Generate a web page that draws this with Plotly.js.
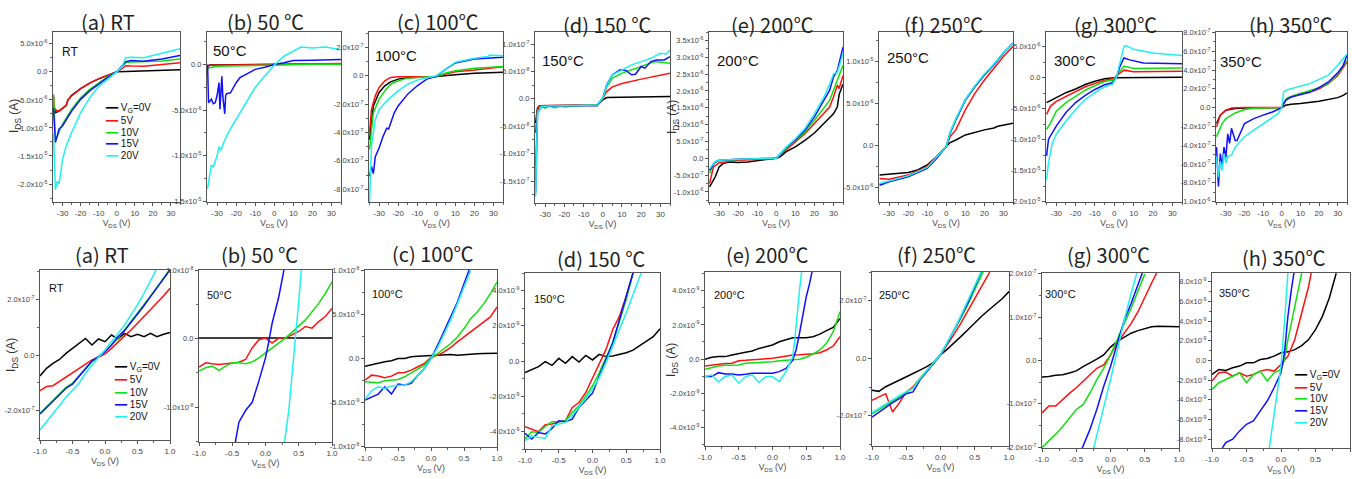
<!DOCTYPE html>
<html><head><meta charset="utf-8">
<script src="https://cdn.plot.ly/plotly-3.0.1.min.js"></script>
<style>html,body{margin:0;padding:0;background:#fff}#chart{width:1352px;height:479px}</style>
</head><body><div id="chart"></div>
<script>
// ---------- series names / colours ----------
const seriesNames = ['V<sub>G</sub>=0V', '5V', '10V', '15V', '20V'];
const seriesColors = ['#000000', '#ff1010', '#10e010', '#1010ff', '#20f0f0'];

// ---------- common x grids (V) ----------
const X21 = [-1,-0.9,-0.8,-0.7,-0.6,-0.5,-0.4,-0.3,-0.2,-0.1,0,0.1,0.2,0.3,0.4,0.5,0.6,0.7,0.8,0.9,1];
const X17 = [-1,-0.9,-0.8,-0.7,-0.6,-0.5,-0.4,-0.3,-0.2,-0.1,0,0.1,0.2,0.3,0.4,0.5,0.6];

// ================= TOP ROW (VDS -35..35 V) =================
// (a) RT, unit 1e-6 A
const ta0x=[-35,-34,-32,-30,-28,-27,-25,-20,-15,-10,-5,0,5,10,20,35];
const ta0y=[-6.0,-7.3,-7.0,-6.5,-6.0,-5.0,-4.2,-3.0,-2.0,-1.25,-0.6,0,0.05,0.1,0.2,0.35];
const ta5x=[-35,-34.5,-33,-31,-29,-28,-27,-25,-20,-15,-10,-5,0,3,5,8,15,25,35];
const ta5y=[-4.2,-6.5,-7.0,-6.8,-6.2,-6.0,-5.0,-4.3,-3.0,-2.0,-1.2,-0.6,0,0.6,1.1,1.05,1.0,1.3,1.6];
const ta10x=[-35,-34.5,-34,-33,-30,-25,-20,-15,-10,-5,0,3,5,8,15,25,35];
const ta10y=[-4.0,-9.0,-12.2,-11.5,-9.3,-6.7,-4.6,-3.1,-1.9,-0.85,0,0.9,1.7,1.75,1.75,1.95,2.3];
const ta15x=[-35,-34.5,-34,-33,-32,-30,-25,-20,-15,-10,-5,0,3,5,8,15,25,35];
const ta15y=[-6.5,-11,-12.6,-11.5,-10.2,-9.6,-7.0,-4.9,-3.4,-2.2,-1.0,0,1.0,1.8,2.0,1.9,2.3,2.9];
const ta20x=[-35,-34.5,-34,-33,-32,-31,-30,-28,-25,-20,-15,-10,-5,0,3,5,8,15,20,25,35];
const ta20y=[-11,-19,-21,-19.5,-20,-18,-15.6,-13.2,-10.8,-7.3,-4.6,-2.6,-1.3,0,1.0,2.5,2.6,2.5,2.9,3.3,4.1];
const taTicks=[5,0,-5,-10,-15,-20];

// (b) 50 C, unit 1e-6 A
const tb0x=[-35,-34,-20,0,20,35];
const tb0y=[-0.2,-0.05,-0.02,0,0.02,0.05];
const tb5x=[-35,-34,-20,0,20,35];
const tb5y=[-0.3,-0.1,-0.05,0,0.05,0.1];
const tb10x=[-35,-34,-30,-20,-10,0,20,35];
const tb10y=[-0.5,-0.35,-0.2,-0.15,-0.08,0,0.02,0.03];
const tb15x=[-35,-34.5,-33,-32,-31,-30,-29,-28.5,-28,-27.5,-27,-26,-25.5,-25,-23,-20,-18,-15,-10,-5,0,5,10,20,35];
const tb15y=[0,-4.2,-3.8,-4.3,-4.2,-3.4,-2.0,-4.9,-3.0,-1.3,-3.5,-5.4,-3.4,-3.2,-3.1,-2.0,-1.45,-1.1,-0.54,-0.3,0,0.18,0.43,0.45,0.54];
const tb20x=[-35,-34,-33,-32,-31,-30,-29,-28,-27,-25,-22,-20,-15,-10,-5,0,5,10,14,20,27,35];
const tb20y=[-13.6,-12.2,-11.0,-11.2,-10.5,-10.0,-9.0,-9.4,-8.8,-7.8,-6.7,-6.0,-4.2,-2.5,-1.27,-0.07,0.9,1.45,1.9,1.8,1.9,1.6];
const tbTicks=[0,-5,-10,-15];

// (c) 100 C, unit 1e-7 A
const tc0x=[-35,-33,-30,-27,-24,-20,-15,-10,-5,0,10,20,35];
const tc0y=[-4.5,-2.13,-1.18,-0.71,-0.43,-0.24,-0.14,-0.12,-0.07,-0.05,0.07,0.17,0.24];
const tc5x=[-35,-34,-32,-30,-27,-24,-20,-10,0,5,10,20,35];
const tc5y=[-4.0,-2.37,-1.42,-0.83,-0.36,-0.12,-0.07,-0.07,-0.05,0.12,0.28,0.4,0.64];
const tc10x=[-35,-33,-30,-27,-24,-20,-15,-10,-5,0,5,10,20,35];
const tc10y=[-5.2,-2.6,-1.65,-1.07,-0.6,-0.36,-0.17,-0.12,-0.1,-0.05,0.19,0.35,0.52,0.64];
const tc15x=[-35,-34,-33,-32,-30,-28,-26,-25,-22,-20,-15,-10,-5,0,5,10,20,35];
const tc15y=[-7.1,-6.4,-6.9,-5.7,-5.1,-4.3,-3.7,-3.75,-2.6,-2.13,-1.3,-0.71,-0.24,-0.05,0.47,0.9,1.18,1.3];
const tc20x=[-35,-34,-32,-30,-25,-20,-15,-10,-5,0,5,10,20,27,28,35];
const tc20y=[-8.9,-4.97,-3.1,-2.37,-1.65,-1.07,-0.6,-0.31,-0.14,0,0.47,0.95,1.23,1.35,1.45,1.4];
const tcTicks=[2,0,-2,-4,-6,-8];

// (d) 150 C, unit 1e-8 A
const td0x=[-35,-34,-33,-20,-3,0,2,10,35];
const td0y=[-4.4,-1.7,-1.27,-1.2,-1.1,-0.2,0.24,0.3,0.42];
const td5x=[-35,-34,-33,-20,-3,0,2,5,10,20,30,35];
const td5y=[-6.2,-2.0,-1.27,-1.2,-1.1,0.1,1.33,2.2,2.8,3.6,4.4,4.7];
const td10x=[-35,-34,-32,-30,-28,-25,-22,-20,-15,-10,-3,0,2,5,10,20,27,35];
const td10y=[-12.3,-2.3,-1.4,-1.7,-1.3,-1.6,-1.3,-1.5,-1.3,-1.25,-1.1,0.1,2.2,3.8,4.7,5.9,6.8,6.5];
const td15x=[-35,-34,-32,-20,-3,0,2,5,9,12,15,17,20,22,25,28,32,35];
const td15y=[-17.2,-2.6,-1.4,-1.25,-1.27,0.1,2.5,4.4,5.3,5.2,4.4,4.5,5.9,5.6,6.8,7.1,7.1,7.7];
const td20x=[-35,-34,-32,-28,-20,-10,-3,0,2,5,10,15,20,25,30,33,35];
const td20y=[-17.8,-2.6,-1.4,-1.3,-1.25,-1.2,-1.1,0.1,2.4,4.4,5.3,6.2,6.8,7.4,8.3,8.2,8.9];
const tdTicks=[10,5,0,-5,-10,-15];

// (e) 200 C, unit 1e-6 A
const te0x=[-35,-32,-30,-28,-25,-20,-15,-10,-5,0,2,5,10,15,20,25,30,32,33,35];
const te0y=[-0.85,-0.55,-0.26,-0.16,-0.11,-0.13,-0.11,-0.08,-0.04,0,0.04,0.19,0.34,0.53,0.75,1.03,1.32,1.52,1.9,2.2];
const te5x=[-35,-33,-30,-25,-20,-10,0,5,10,15,20,25,28,30,32,33,35];
const te5y=[-0.75,-0.26,-0.14,-0.09,-0.06,-0.04,0,0.24,0.48,0.73,1.03,1.32,1.52,1.82,2.17,2.07,2.46];
const te10x=[-35,-33,-30,-20,0,5,10,15,20,25,28,30,32,35];
const te10y=[-0.45,-0.16,-0.08,-0.04,0,0.29,0.53,0.78,1.13,1.52,1.72,2.02,2.3,2.76];
const te15x=[-35,-32,-30,-20,0,5,10,15,20,25,28,30,32,35];
const te15y=[-0.36,-0.11,-0.06,-0.03,0,0.31,0.55,0.83,1.23,1.72,2.02,2.41,2.6,3.3];
const te20x=[-35,-32,-30,-20,0,5,10,15,20,25,28,30,32,35];
const te20y=[-0.31,-0.1,-0.06,-0.03,0,0.32,0.58,0.88,1.32,1.82,2.2,2.5,2.55,3.1];
const teTicks=[3.5,3,2.5,2,1.5,1,0.5,0,-0.5,-1];

// (f) 250 C, unit 1e-6 A
const tf0x=[-35,-30,-20,-15,-10,-5,0,2,5,10,20,25,27,30,35];
const tf0y=[-3.5,-3.4,-3.2,-2.9,-2.3,-1.3,-0.1,0.36,0.67,1.27,1.87,2.1,2.3,2.46,2.66];
const tf5x=[-35,-30,-20,-10,-5,0,2,5,10,15,20,25,30,35];
const tf5y=[-3.9,-4.0,-3.5,-2.5,-1.3,-0.1,1.07,1.87,4.25,6.2,7.8,9.2,10.6,11.8];
const tf10x=[-35,-30,-20,-10,-5,0,2,5,10,15,20,25,30,35];
const tf10y=[-4.6,-4.25,-3.65,-2.65,-1.45,-0.1,1.5,3.1,5.45,7.05,8.45,9.65,11.0,12.1];
const tf15x=[-35,-30,-20,-10,-5,0,2,5,10,15,20,25,30,35];
const tf15y=[-4.7,-4.3,-3.7,-2.7,-1.5,-0.1,1.5,3.05,5.4,7.0,8.4,9.6,11.0,12.2];
const tf20x=[-35,-30,-20,-10,-5,0,2,5,10,15,20,25,30,35];
const tf20y=[-4.5,-4.2,-3.6,-2.6,-1.4,-0.1,1.6,3.2,5.5,7.1,8.5,9.7,11.05,12.15];
const tfTicks=[10,5,0,-5];

// (g) 300 C, unit 1e-6 A
const tg0x=[-35,-30,-25,-20,-15,-10,-5,0,5,35];
const tg0y=[-4.0,-3.2,-2.4,-1.8,-1.08,-0.54,-0.16,0,0.02,0.1];
const tg5x=[-35,-33,-30,-25,-20,-15,-10,-5,-1,0,3,5,10,35];
const tg5y=[-5.9,-4.6,-3.8,-3.0,-2.15,-1.45,-0.9,-0.38,-0.16,0,0.8,1.24,0.97,1.07];
const tg10x=[-35,-33,-30,-25,-20,-15,-10,-5,-1,0,3,5,10,35];
const tg10y=[-8.3,-7.3,-5.4,-4.0,-3.0,-2.0,-1.24,-0.6,-0.38,-0.1,1.08,1.9,1.5,1.6];
const tg15x=[-35,-34,-30,-25,-20,-15,-10,-5,-1,1,3,5,8,15,35];
const tg15y=[-12.6,-9.9,-7.8,-5.6,-4.0,-2.85,-1.88,-1.13,-0.8,0,1.9,3.2,2.9,2.4,2.26];
const tg20x=[-35,-34,-32,-30,-25,-20,-15,-10,-5,-1,1,3,5,6,10,20,35];
const tg20y=[-16.4,-13.7,-10.5,-9.1,-7.0,-5.1,-3.5,-2.4,-1.45,-1.07,0,2.4,5.1,5.2,4.6,4.0,3.6];
const tgTicks=[5,0,-5,-10,-15,-20];

// (h) 350 C, unit 1e-7 A
const th0x=[-35,-33,-30,-25,-20,0,2,5,10,20,30,33,35];
const th0y=[-1.7,-0.8,-0.28,-0.1,-0.04,0,0.25,0.35,0.43,0.67,1.06,1.3,1.56];
const th5x=[-35,-33,-30,-27,-20,0,1,3,5,10,15,20,25,30,33,35];
const th5y=[-2.05,-0.8,-0.28,-0.04,0,0,0.43,0.96,1.13,1.5,1.67,2.0,2.55,3.4,4.3,4.86];
const th10x=[-35,-32,-30,-25,-20,-15,0,1,3,5,10,20,25,30,33,35];
const th10y=[-3.1,-1.7,-1.17,-0.57,-0.21,-0.07,0,0.43,1.03,1.2,1.5,2.13,2.55,3.55,4.5,5.0];
const th15x=[-35,-34,-33,-32,-31,-30,-29,-28,-27,-26,-25,-24,-23,-22,-20,-15,-10,-5,0,2,5,10,15,20,25,30,33,35];
const th15y=[-4.2,-8.4,-4.9,-6.3,-4.2,-5.3,-2.8,-3.8,-2.2,-3.0,-3.5,-3.5,-3.1,-2.6,-1.7,-1.17,-0.8,-0.46,0,0.78,1.13,1.4,1.63,2.13,2.73,3.7,4.5,5.6];
const th20x=[-35,-34,-33,-32,-31,-30,-29,-27,-25,-20,-15,-10,-5,-2,0,1,3,5,10,15,20,25,30,33,35];
const th20y=[-5.2,-7.4,-5.7,-6.7,-4.9,-5.9,-5.2,-5.07,-4.2,-3.1,-2.4,-1.7,-1.0,-0.64,0,1.67,1.9,2.0,2.3,2.55,3.0,3.45,4.5,5.3,5.7];
const thTicks=[8,6,4,2,0,-2,-4,-6,-8,-10];

// ================= BOTTOM ROW (VDS -1..1 V) =================
// (a) RT, unit 1e-7 A
const ba0y=[-0.76,-0.48,-0.30,-0.16,0.06,0.24,0.42,0.60,0.36,0.58,0.48,0.72,0.58,0.78,0.66,0.75,0.66,0.78,0.66,0.75,0.81];
const ba5y=[-1.29,-1.14,-1.11,-0.96,-0.78,-0.63,-0.48,-0.33,-0.18,-0.08,0.04,0.24,0.48,0.69,0.90,1.14,1.39,1.63,1.87,2.13,2.41];
const ba10y=[-2.11,-1.87,-1.63,-1.39,-1.17,-1.02,-0.76,-0.48,-0.24,-0.06,0.12,0.36,0.60,0.90,1.20,1.53,1.81,2.13,2.45,2.77,3.10];
const ba15y=[-2.13,-1.89,-1.65,-1.41,-1.20,-1.05,-0.78,-0.48,-0.22,-0.06,0.12,0.36,0.66,0.88,1.17,1.48,1.78,2.11,2.43,2.75,3.07];
const ba20x=[-1,-0.9,-0.8,-0.7,-0.6,-0.5,-0.4,-0.3,-0.2,-0.1,0,0.1,0.2,0.3,0.4,0.5,0.6,0.7,0.8];
const ba20y=[-2.71,-2.41,-2.11,-1.81,-1.53,-1.27,-1.02,-0.66,-0.36,-0.08,0.18,0.48,0.78,1.08,1.45,1.81,2.23,2.65,3.13];
const baTicks=[2,0,-2];

// (b) 50 C, unit 1e-9 A
const bb0y=[0.1,0.12,0.1,0.08,0.1,0.12,0.1,0.1,0.12,0.1,0.15,0.12,0.1,0.12,0.15,0.12,0.15,0.12,0.15,0.15,0.12];
const bb5y=[-4.15,-3.53,-3.67,-3.77,-3.67,-3.53,-3.43,-3.04,-1.35,-0.14,0.10,-0.63,0.10,0.10,0.58,1.06,1.79,1.55,2.51,3.24,4.44];
const bb10y=[-4.73,-4.25,-4.01,-4.64,-4.01,-3.53,-3.53,-3.67,-3.38,-2.80,-2.08,-1.35,-0.63,0.10,0.97,1.79,2.75,3.96,5.17,6.62,8.31];
const bb15x=[-0.46,-0.4,-0.3,-0.2,-0.1,0,0.05,0.1,0.2,0.28];
const bb15y=[-15.5,-12.2,-10.5,-9.3,-6.2,-2.8,-0.39,2.27,6.14,10.2];
const bb20x=[0.28,0.35,0.4,0.45,0.5,0.54];
const bb20y=[-15.5,-10.5,-5.2,-0.39,5.41,10.2];
const bbTicks=[10,0,-10];

// (c) 100 C, unit 1e-9 A
const bc0y=[-0.87,-0.68,-0.57,-0.38,-0.26,0,0,0.19,0.26,0.30,0.38,0.45,0.49,0.45,0.38,0.45,0.49,0.53,0.57,0.60,0.60];
const bc5y=[-2.45,-1.89,-2.0,-2.19,-2.0,-1.62,-1.59,-1.32,-0.94,-0.57,0.11,0.38,0.75,1.25,1.89,2.45,2.94,3.59,4.15,4.72,5.85];
const bc10y=[-2.64,-2.72,-2.75,-2.53,-2.45,-2.38,-2.08,-1.62,-1.13,-0.75,0,0.57,1.13,1.70,2.45,3.40,4.53,5.28,6.23,7.36,8.68];
const bc15y=[-4.72,-4.34,-4.04,-3.21,-4.04,-2.91,-3.02,-2.83,-1.89,-1.13,0,1.51,3.21,4.91,6.42,8.49,10.5];
const bc20y=[-4.64,-3.66,-3.21,-3.40,-3.13,-3.06,-3.02,-2.64,-1.89,-1.13,0,1.25,2.83,4.42,6.23,8.11,10.0];
const bcTicks=[10,5,0,-5,-10];

// (d) 150 C, unit 1e-9 A
const bd0y=[-0.66,-0.47,-0.32,-0.04,-0.25,0.15,-0.13,0.25,-0.06,0.32,0.06,0.38,0.25,0.28,0.38,0.47,0.62,0.89,1.13,1.38,1.83];
const bd5y=[-3.74,-3.87,-4.02,-3.62,-3.58,-3.45,-3.40,-2.64,-2.36,-1.79,-1.0,-0.19,0.66,1.79,2.55,3.68,5.0];
const bd10y=[-4.43,-4.02,-4.06,-3.72,-3.45,-3.45,-3.40,-2.92,-2.55,-1.98,-1.42,-0.66,0.19,1.04,2.26,3.49,5.0];
const bd15y=[-4.11,-4.43,-4.06,-4.15,-3.83,-3.40,-3.45,-3.30,-2.64,-2.26,-1.83,-0.85,0.09,1.04,2.36,3.68,5.0];
const bd20x=[-1,-0.9,-0.8,-0.7,-0.6,-0.5,-0.4,-0.3,-0.2,-0.1,0,0.1,0.2,0.3,0.4,0.5,0.6,0.7,0.75];
const bd20y=[-4.53,-4.25,-4.34,-4.40,-3.68,-3.58,-3.49,-3.11,-2.64,-2.13,-1.60,-0.94,-0.09,0.85,1.70,2.74,3.77,4.72,5.3];
const bdTicks=[4,2,0,-2,-4];

// (e) 200 C, unit 1e-9 A
const be0y=[-0.02,0.10,0.14,0.14,0.23,0.33,0.39,0.47,0.62,0.72,0.82,1.01,1.15,1.25,1.25,1.25,1.31,1.46,1.66,1.85,2.38];
const be5y=[-0.41,-0.35,-0.29,-0.27,-0.25,-0.10,-0.08,-0.06,-0.04,0,0.04,0.10,0.18,0.23,0.25,0.27,0.31,0.37,0.53,0.76,1.31];
const be10y=[-0.60,-0.51,-0.41,-0.37,-0.35,-0.35,-0.25,-0.23,-0.21,-0.16,-0.16,-0.10,-0.08,-0.06,-0.02,0.10,0.29,0.53,0.92,1.60,2.77];
const be15x=[-1,-0.9,-0.8,-0.7,-0.6,-0.5,-0.4,-0.3,-0.2,-0.1,0,0.1,0.2,0.3,0.35,0.4,0.45,0.5,0.55,0.6];
const be15y=[-1.03,-1.03,-0.80,-0.88,-0.88,-0.94,-0.90,-0.84,-0.84,-0.84,-0.84,-0.74,-0.55,-0.06,0.53,1.50,2.67,3.65,4.43,5.4];
const be20x=[-1,-0.9,-0.8,-0.7,-0.6,-0.5,-0.4,-0.3,-0.2,-0.1,0,0.1,0.2,0.3,0.33,0.36,0.4,0.44];
const be20y=[-1.03,-0.94,-1.33,-1.03,-0.94,-1.42,-1.03,-0.94,-1.38,-1.03,-1.03,-1.33,-0.74,0.14,1.11,2.48,4.04,5.4];
const beTicks=[4,2,0,-2,-4];

// (f) 250 C, unit 1e-7 A
const bf0y=[-1.11,-1.15,-0.99,-0.88,-0.76,-0.64,-0.53,-0.41,-0.29,-0.14,0.12,0.32,0.53,0.76,0.99,1.23,1.46,1.67,1.87,2.07,2.32];
const bf5x=[-1,-0.9,-0.8,-0.7,-0.6,-0.5,-0.4,-0.3,-0.2,-0.1,0,0.1,0.2,0.3,0.4,0.5,0.6,0.7,0.75];
const bf5y=[-1.46,-1.35,-1.23,-1.87,-1.55,-1.17,-0.99,-0.70,-0.44,-0.18,0.12,0.47,0.84,1.23,1.64,2.05,2.51,2.92,3.15];
const bfX=[-1,-0.9,-0.8,-0.7,-0.6,-0.5,-0.4,-0.3,-0.2,-0.1,0,0.1,0.2,0.3,0.4,0.5,0.6,0.65];
const bf10y=[-1.93,-1.79,-1.64,-1.49,-1.35,-1.19,-1.03,-0.70,-0.41,-0.15,0.12,0.53,0.94,1.40,1.87,2.40,2.92,3.15];
const bf15y=[-2.05,-1.87,-1.70,-1.54,-1.40,-1.23,-1.17,-0.76,-0.47,-0.18,0.12,0.53,0.97,1.46,1.93,2.46,3.02,3.3];
const bf20y=[-1.89,-1.74,-1.60,-1.45,-1.30,-1.17,-1.05,-0.71,-0.42,-0.15,0.12,0.55,0.99,1.49,1.99,2.51,3.04,3.3];
const bfTicks=[2,0,-2];

// (g) 300 C, unit 1e-7 A
const bg0y=[-0.38,-0.37,-0.34,-0.33,-0.29,-0.24,-0.14,-0.06,0.03,0.13,0.31,0.44,0.53,0.63,0.69,0.74,0.78,0.79,0.79,0.79,0.78];
const bg5x=[-1,-0.9,-0.8,-0.7,-0.6,-0.5,-0.4,-0.3,-0.2,-0.1,0,0.1,0.2,0.3,0.4,0.5,0.6,0.7];
const bg5y=[-1.21,-1.05,-1.05,-0.90,-0.76,-0.63,-0.48,-0.33,-0.18,-0.10,0.13,0.41,0.63,0.85,1.12,1.47,1.79,2.1];
const bg10x=[-1,-0.9,-0.8,-0.7,-0.6,-0.5,-0.4,-0.3,-0.2,-0.1,0,0.1,0.2,0.3,0.4,0.5];
const bg10y=[-2.01,-1.86,-1.70,-1.53,-1.34,-1.13,-1.02,-0.75,-0.44,-0.18,0.13,0.47,0.85,1.20,1.62,2.0];
const bg15x=[-0.42,-0.3,-0.2,-0.1,0,0.1,0.2,0.3,0.4,0.47];
const bg15y=[-2.05,-1.59,-1.13,-0.60,-0.14,0.40,0.93,1.31,1.73,2.05];
const bg20x=[-0.25,-0.2,-0.1,0,0.1,0.2,0.3,0.39];
const bg20y=[-2.05,-1.74,-1.13,-0.44,0.24,0.93,1.54,2.05];
const bgTicks=[2,1,0,-1,-2];

// (h) 350 C, unit 1e-9 A
const bh0x=[-1,-0.9,-0.8,-0.7,-0.6,-0.5,-0.4,-0.3,-0.2,-0.1,0,0.1,0.2,0.3,0.4,0.5,0.6,0.7,0.8];
const bh0y=[-1.42,-0.91,-1.01,-0.74,-0.57,-0.24,-0.24,0.10,0.20,0.44,0.78,0.88,1.11,1.52,2.13,3.14,4.49,6.35,8.88];
const bh5x=[-1,-0.9,-0.8,-0.7,-0.6,-0.5,-0.4,-0.3,-0.2,-0.1,0,0.1,0.2,0.3,0.4,0.44];
const bh5y=[-2.09,-1.25,-1.18,-1.59,-1.25,-1.59,-1.42,-1.08,-0.91,-1.08,-0.41,0.44,2.13,4.83,7.53,9.0];
const bh10x=[-1,-0.9,-0.8,-0.7,-0.6,-0.5,-0.4,-0.3,-0.2,-0.1,0,0.05,0.1,0.2,0.3];
const bh10y=[-2.94,-2.26,-1.93,-1.59,-1.25,-2.26,-1.42,-1.08,-2.09,-1.25,-0.91,0.10,2.13,5.51,8.88];
const bh15x=[-0.85,-0.8,-0.7,-0.6,-0.5,-0.4,-0.3,-0.2,-0.1,0,0.05,0.1,0.15,0.19];
const bh15y=[-8.9,-8.34,-8.0,-7.16,-6.49,-6.15,-5.13,-4.12,-2.77,-1.25,0.78,4.49,7.20,9.0];
const bh20x=[-0.17,-0.1,0,0.05,0.1];
const bh20y=[-8.9,-5.30,-0.57,3.82,8.9];
const bhTicks=[8,6,4,2,0,-2,-4,-6,-8];

// ---------- tick labels ----------
const topXTicks=[-30,-20,-10,0,10,20,30];
const botXTicks=[-1,-0.5,0,0.5,1];
const botXText=['-1.0','-0.5','0.0','0.5','1.0'];

// ---------- panel texts ----------
const panelTitles=['(a) RT','(b) 50 ℃','(c) 100℃','(d) 150 ℃','(e) 200℃','(f) 250℃','(g) 300℃','(h) 350℃'];
const insetLabels=['RT','50°C','100°C','150°C','200°C','250°C','300°C','350°C'];

// ---------- panel definitions (data refs + scale) ----------
const panels=[
 {row:0,xs:[ta0x,ta5x,ta10x,ta15x,ta20x],ys:[ta0y,ta5y,ta10y,ta15y,ta20y],unit:1e-6,yr:[-23.2,7.1],ticks:taTicks,step:5},
 {row:0,xs:[tb0x,tb5x,tb10x,tb15x,tb20x],ys:[tb0y,tb5y,tb10y,tb15y,tb20y],unit:1e-6,yr:[-15.05,3.55],ticks:tbTicks,step:5},
 {row:0,xs:[tc0x,tc5x,tc10x,tc15x,tc20x],ys:[tc0y,tc5y,tc10y,tc15y,tc20y],unit:1e-7,yr:[-8.9,3.08],ticks:tcTicks,step:2},
 {row:0,xs:[td0x,td5x,td10x,td15x,td20x],ys:[td0y,td5y,td10y,td15y,td20y],unit:1e-8,yr:[-19,12.2],ticks:tdTicks,step:5},
 {row:0,xs:[te0x,te5x,te10x,te15x,te20x],ys:[te0y,te5y,te10y,te15y,te20y],unit:1e-6,yr:[-1.3,3.75],ticks:teTicks,step:0.5},
 {row:0,xs:[tf0x,tf5x,tf10x,tf15x,tf20x],ys:[tf0y,tf5y,tf10y,tf15y,tf20y],unit:1e-6,yr:[-6.7,13.5],ticks:tfTicks,step:5},
 {row:0,xs:[tg0x,tg5x,tg10x,tg15x,tg20x],ys:[tg0y,tg5y,tg10y,tg15y,tg20y],unit:1e-6,yr:[-20.05,7.4],ticks:tgTicks,step:5},
 {row:0,xs:[th0x,th5x,th10x,th15x,th20x],ys:[th0y,th5y,th10y,th15y,th20y],unit:1e-7,yr:[-10.05,8.05],ticks:thTicks,step:2},
 {row:1,xs:[X21,X21,X21,X21,ba20x],ys:[ba0y,ba5y,ba10y,ba15y,ba20y],unit:1e-7,yr:[-3.07,3.07],ticks:baTicks,step:2},
 {row:1,xs:[X21,X21,X21,bb15x,bb20x],ys:[bb0y,bb5y,bb10y,bb15y,bb20y],unit:1e-9,yr:[-15.1,10.05],ticks:bbTicks,step:10},
 {row:1,xs:[X21,X21,X21,X17,X17],ys:[bc0y,bc5y,bc10y,bc15y,bc20y],unit:1e-9,yr:[-10.05,10.05],ticks:bcTicks,step:5},
 {row:1,xs:[X21,X17,X17,X17,bd20x],ys:[bd0y,bd5y,bd10y,bd15y,bd20y],unit:1e-9,yr:[-5,5],ticks:bdTicks,step:2},
 {row:1,xs:[X21,X21,X21,be15x,be20x],ys:[be0y,be5y,be10y,be15y,be20y],unit:1e-9,yr:[-5.1,5.1],ticks:beTicks,step:2},
 {row:1,xs:[X21,bf5x,bfX,bfX,bfX],ys:[bf0y,bf5y,bf10y,bf15y,bf20y],unit:1e-7,yr:[-3.05,3.0],ticks:bfTicks,step:2},
 {row:1,xs:[X21,bg5x,bg10x,bg15x,bg20x],ys:[bg0y,bg5y,bg10y,bg15y,bg20y],unit:1e-7,yr:[-2.02,2.02],ticks:bgTicks,step:1},
 {row:1,xs:[bh0x,bh5x,bh10x,bh15x,bh20x],ys:[bh0y,bh5y,bh10y,bh15y,bh20y],unit:1e-9,yr:[-8.9,8.9],ticks:bhTicks,step:2}
];

// ---------- layout geometry (pixels: left,right,top,bottom) ----------
const W=1352,H=479;
const boxes=[
 [53,180,32,202],[207,341,32,202],[369,503,32,202],[535,670,32,203],[709,843,32,202],[879,1013,32,202],[1046,1182,32,202],[1216,1347,32,202],
 [40,170,270,440],[199,332,270,442],[365,497,270,447],[525,660,273,449],[705,840,272,446],[872,1009,272,446],[1042,1179,273,448],[1212,1350,273,448]
];
const titlePos=[[108,22],[265,22],[438,22],[607,24],[772,24],[943,24],[1115,24],[1290,24],
 [102,255],[259,255],[433,253],[601,258],[767,255],[936,255],[1108,255],[1283,257]];
const insetPos=[[60,52],[211,50],[373,56],[540,60],[715,61],[885,57],[1052,61],[1218,62],
 [47,288],[205,295],[370,294],[532,299],[712,295],[877,295],[1043,294],[1217,293]];

const SANS='"Liberation Sans",Arial,sans-serif';
const TITLEF='"Noto Sans CJK KR","Noto Sans CJK SC",sans-serif';

function sci(v){
  if(Math.abs(v)<1e-30) return '0.0';
  const e=Math.floor(Math.log10(Math.abs(v))+1e-6);
  const m=v/Math.pow(10,e);
  return m.toFixed(1)+'x10<sup>'+e+'</sup>';
}
const px=x=>x/W, py=y=>1-y/H;

const traces=[], layout={
  width:W,height:H,margin:{l:0,r:0,t:0,b:0},paper_bgcolor:'#fff',plot_bgcolor:'#fff',
  showlegend:false,annotations:[]
};

panels.forEach((p,i)=>{
  const n=i+1, xa='x'+(n===1?'':n), ya='y'+(n===1?'':n);
  const b=boxes[i];
  for(let s=0;s<5;s++){
    traces.push({type:'scatter',mode:'lines',name:seriesNames[s],x:p.xs[s],y:p.ys[s].map(v=>v*p.unit),
      xaxis:xa,yaxis:ya,line:{color:seriesColors[s],width:1.5},showlegend:false,hoverinfo:'x+y+name'});
  }
  const top=p.row===0;
  layout['xaxis'+(n===1?'':n)]={
    domain:[px(b[0]),px(b[1])],anchor:ya,
    range: top?[-35.3,35]:[-1,1],
    tickmode:'array',tickvals: top?topXTicks:botXTicks, ticktext: top?topXTicks.map(String):botXText,
    ticks:'outside',ticklen:3,tickcolor:'#555',
    minor:{dtick: top?5:0.25, tick0:0, ticks:'outside', ticklen:2, tickcolor:'#666'},
    showline:true,linecolor:'#555',linewidth:1,mirror:true,showgrid:false,zeroline:false,
    tickfont:{family:SANS,size:8,color:'#444'},
    title:{text:'V<sub>DS</sub> (V)',font:{family:SANS,size:8.5,color:'#444'},standoff:3}
  };
  layout['yaxis'+(n===1?'':n)]={
    domain:[py(b[3]),py(b[2])],anchor:xa,
    range:[p.yr[0]*p.unit,p.yr[1]*p.unit],
    tickmode:'array',tickvals:p.ticks.map(v=>v*p.unit),ticktext:p.ticks.map(v=>sci(v*p.unit)),
    ticks:'outside',ticklen:3,tickcolor:'#555',
    minor:{dtick:p.step*p.unit/2,tick0:0,ticks:'outside',ticklen:2,tickcolor:'#666'},
    showline:true,linecolor:'#555',linewidth:1,mirror:true,showgrid:false,zeroline:false,
    tickfont:{family:SANS,size:7.5,color:'#444'}
  };
  // panel title
  layout.annotations.push({xref:'paper',yref:'paper',x:px(titlePos[i][0]),y:py(titlePos[i][1]),
    text:panelTitles[i%8],showarrow:false,xanchor:'center',yanchor:'middle',
    font:{family:TITLEF,size:20,color:'#222'}});
  // inset label
  layout.annotations.push({xref:'paper',yref:'paper',x:px(insetPos[i][0]),y:py(insetPos[i][1]),
    text:insetLabels[i%8],showarrow:false,xanchor:'left',yanchor:'middle',
    font:{family:SANS,size: top?(i===0?12:15):11,color:'#111'}});
});

// y-axis titles
[[15,116],[673,117],[12,355],[672,360]].forEach(q=>{
  layout.annotations.push({xref:'paper',yref:'paper',x:px(q[0]),y:py(q[1]),text:'I<sub>DS</sub> (A)',
    textangle:-90,showarrow:false,xanchor:'center',yanchor:'middle',font:{family:SANS,size:12,color:'#333'}});
});

// legends (three, drawn as text rows)
const legendSpots=[[103,[108,120,132,143,155]],[112,[367,379,392,404,416]],[1292,[375,387,398,410,422]]];
legendSpots.forEach(ls=>{
  ls[1].forEach((yy,s)=>{
    layout.annotations.push({xref:'paper',yref:'paper',x:px(ls[0]),y:py(yy),xanchor:'left',yanchor:'middle',showarrow:false,
      text:'<span style="color:'+seriesColors[s]+';font-family:DejaVu Sans">━━</span> '+seriesNames[s],
      font:{family:SANS,size:10,color:'#111'}});
  });
});

Plotly.newPlot('chart',traces,layout,{staticPlot:true,displayModeBar:false});
</script></body></html>
